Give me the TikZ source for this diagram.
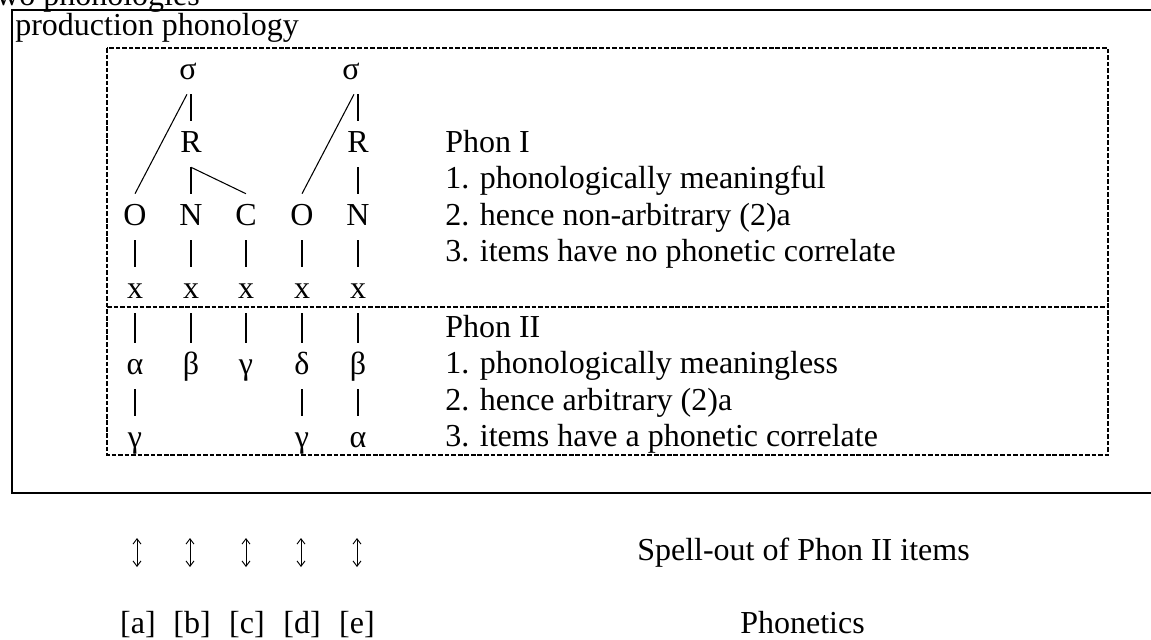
\documentclass[tikz,border=0pt]{standalone}
\usepackage{fontspec}
\setmainfont{Liberation Serif}
\usetikzlibrary{arrows.meta}
\begin{document}
\begin{tikzpicture}[x=0.75pt,y=-0.75pt,
  txt/.style={anchor=base west,inner sep=0pt,font=\fontsize{24}{28}\selectfont},
  lt/.style={anchor=base,inner sep=0pt,text height=23.25pt,text depth=11.25pt,font=\fontsize{24}{28}\selectfont},
  br/.style={line width=0.8pt},
  outerbox/.style={line width=1.8pt},
  innerbox/.style={line width=1.6pt,dash pattern=on 3.5pt off 1.4pt},
  updown/.style={line width=0.7pt,{Straight Barb[length=4pt,width=6pt]}-{Straight Barb[length=4pt,width=6pt]}}]
\useasboundingbox (0,0) rectangle (1151,639);
\clip (0,0) rectangle (1151,639);

% boxes
\draw[outerbox] (12,10) rectangle (1170,493);
\draw[innerbox] (107,48) rectangle (1108,455);
\draw[innerbox] (107,307) -- (1108,307);

% titles
\node[txt] (title) at (-13,5) {two phonologies};
\node[txt] (prod) at (15,35) {production phonology};

% tree
\node[lt] (s1) at (188,79) {σ};
\node[lt] (s2) at (351,79) {σ};
\node[lt] (R1) at (191,152) {R};
\node[lt] (R2) at (358,152) {R};
\node[lt] (O1) at (135,225) {O};
\node[lt] (N1) at (191,225) {N};
\node[lt] (C1) at (246,225) {C};
\node[lt] (O2) at (302,225) {O};
\node[lt] (N2) at (358,225) {N};
\node[lt] (x1) at (135,298) {x};
\node[lt] (x2) at (191,298) {x};
\node[lt] (x3) at (246,298) {x};
\node[lt] (x4) at (302,298) {x};
\node[lt] (x5) at (358,298) {x};
\node[lt] (p1) at (135,374) {α};
\node[lt] (p2) at (191,374) {β};
\node[lt] (p3) at (246,374) {γ};
\node[lt] (p4) at (302,374) {δ};
\node[lt] (p5) at (358,374) {β};
\node[lt] (q1) at (135,447) {γ};
\node[lt] (q4) at (302,447) {γ};
\node[lt] (q5) at (358,447) {α};

\draw[br] (R1 |- s1.south) -- (R1.north);
\draw[br] ([xshift=-3pt]R1 |- s1.south) -- (O1.north);
\draw[br] (R1.south) -- (N1.north);
\draw[br] (R1.south) -- (C1.north);
\draw[br] (R2 |- s2.south) -- (R2.north);
\draw[br] ([xshift=-3pt]R2 |- s2.south) -- (O2.north);
\draw[br] (R2.south) -- (N2.north);
\draw[br] (O1.south) -- (x1.north);
\draw[br] (N1.south) -- (x2.north);
\draw[br] (C1.south) -- (x3.north);
\draw[br] (O2.south) -- (x4.north);
\draw[br] (N2.south) -- (x5.north);
\draw[br] (x1.south) -- (p1.north);
\draw[br] (x2.south) -- (p2.north);
\draw[br] (x3.south) -- (p3.north);
\draw[br] (x4.south) -- (p4.north);
\draw[br] (x5.south) -- (p5.north);
\draw[br] (p1.south) -- (q1.north);
\draw[br] (p4.south) -- (q4.north);
\draw[br] (p5.south) -- (q5.north);

% Phon I / Phon II text
\node[txt] (ph1) at (445,152) {Phon I};
\node[txt] (ph1a) at (445,188) {1. phonologically meaningful};
\node[txt] (ph1b) at (445,225) {2. hence non-arbitrary (2)a};
\node[txt] (ph1c) at (445,261) {3. items have no phonetic correlate};
\node[txt] (ph2) at (445,337) {Phon II};
\node[txt] (ph2a) at (445,373) {1. phonologically meaningless};
\node[txt] (ph2b) at (445,410) {2. hence arbitrary (2)a};
\node[txt] (ph2c) at (445,446) {3. items have a phonetic correlate};

% spell-out arrows
\foreach \i/\xx in {1/137,2/190,3/246,4/301,5/357}{
  \coordinate (ua\i) at (\xx,538);
  \coordinate (la\i) at (\xx,567);
  \draw[updown] (ua\i) -- (la\i);
}
\node[txt] (spell) at (637,560) {Spell-out of Phon II items};

% phonetics
\node[lt,text height=,text depth=] (ea) at (138,633) {[a]};
\node[lt,text height=,text depth=] (eb) at (192,633) {[b]};
\node[lt,text height=,text depth=] (ec) at (247,633) {[c]};
\node[lt,text height=,text depth=] (ed) at (302,633) {[d]};
\node[lt,text height=,text depth=] (ee) at (357,633) {[e]};
\node[txt] (phon) at (740,633) {Phonetics};
\end{tikzpicture}
\end{document}
